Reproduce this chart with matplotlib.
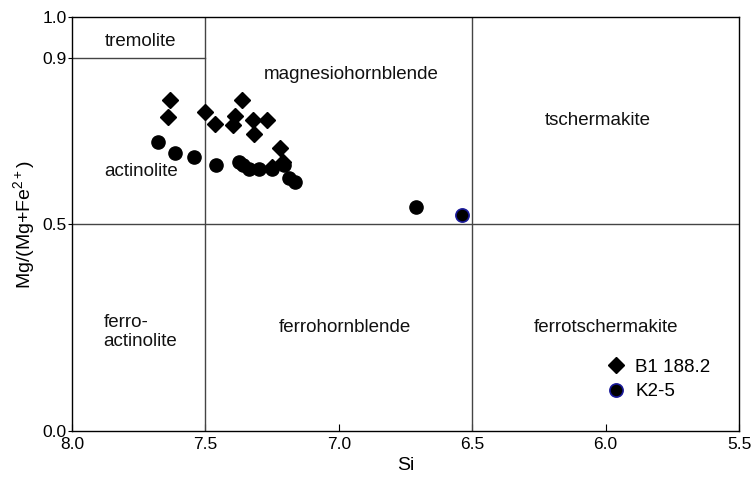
import matplotlib
matplotlib.use("Agg")
import matplotlib.pyplot as plt

plt.rcParams['font.family'] = ['Liberation Sans', 'DejaVu Sans']
plt.rcParams['mathtext.fontset'] = 'custom'
plt.rcParams['mathtext.rm'] = 'Liberation Sans'
plt.rcParams['mathtext.default'] = 'regular'

# amphibole analyses: Si (apfu) vs Mg/(Mg+Fe2+)
b1_si = [7.631, 7.640, 7.500, 7.463, 7.363, 7.388, 7.398, 7.321, 7.269, 7.319, 7.219, 7.250, 7.208]
b1_mg = [0.800, 0.759, 0.770, 0.741, 0.800, 0.762, 0.739, 0.751, 0.751, 0.718, 0.683, 0.638, 0.650]

circ_si = [7.679, 7.615, 7.541, 7.459, 7.375, 7.358, 7.338, 7.300, 7.249, 7.207, 7.188, 7.166, 6.710]
circ_mg = [0.699, 0.671, 0.662, 0.643, 0.650, 0.643, 0.632, 0.632, 0.632, 0.643, 0.610, 0.601, 0.541]

k2_si = [6.538]
k2_mg = [0.522]

fields = ['tremolite', 'magnesiohornblende', 'tschermakite', 'actinolite',
          'ferro-\nactinolite', 'ferrohornblende', 'ferrotschermakite']
field_x = [7.743, 6.953, 6.028, 7.74, 7.743, 6.976, 6.0]
field_y = [0.942, 0.862, 0.749, 0.626, 0.239, 0.251, 0.251]

fs = 13.5

fig = plt.figure(figsize=(7.51, 4.86), dpi=100)
ax = fig.add_axes([72/751, 55/486, 667/751, 414/486])

ax.set_xlim(8.0, 5.5)
ax.set_ylim(0.0, 1.0)

# classification boundaries
lc = '#444444'
ax.axvline(7.5, color=lc, lw=1)
ax.axvline(6.5, color=lc, lw=1)
ax.axhline(0.5, color=lc, lw=1)
ax.plot([8.0, 7.5], [0.9, 0.9], color=lc, lw=1)

for t, x, y in zip(fields, field_x, field_y):
    ax.text(x, y, t, ha='center', va='center', fontsize=fs,
            multialignment='left', color='#111111', linespacing=1.15)

ax.plot(circ_si, circ_mg, 'o', ms=9.5, color='black', mec='black', zorder=3)
ax.plot(b1_si, b1_mg, 'D', ms=8.5, color='black', mec='black', zorder=3,
        label='B1 188.2')
ax.plot(k2_si, k2_mg, 'o', ms=9.5, color='black', mec='#1a1a9a', mew=1.2,
        zorder=3, label='K2-5')

leg = ax.legend(loc='upper left', bbox_to_anchor=(0.802, 0.175), frameon=False,
                fontsize=fs, handlelength=1.0, handletextpad=0.5,
                labelspacing=0.4, borderpad=0, borderaxespad=0)

ax.set_xticks([8.0, 7.5, 7.0, 6.5, 6.0, 5.5])
ax.set_xticklabels(['8.0', '7.5', '7.0', '6.5', '6.0', '5.5'])
ax.set_yticks([0.0, 0.5, 0.9, 1.0])
ax.set_yticklabels(['0.0', '0.5', '0.9', '1.0'])
ax.tick_params(axis='x', direction='in', length=5, labelsize=12.5, pad=4)
ax.tick_params(axis='y', direction='out', length=3, labelsize=12.5, pad=1)

ax.set_xlabel('Si', fontsize=14, labelpad=4)
ax.set_ylabel('Mg/(Mg+Fe$^{2+}$)', fontsize=14, labelpad=4)

for s in ax.spines.values():
    s.set_linewidth(1)
    s.set_color('black')

fig.savefig('out.png', dpi=100)
